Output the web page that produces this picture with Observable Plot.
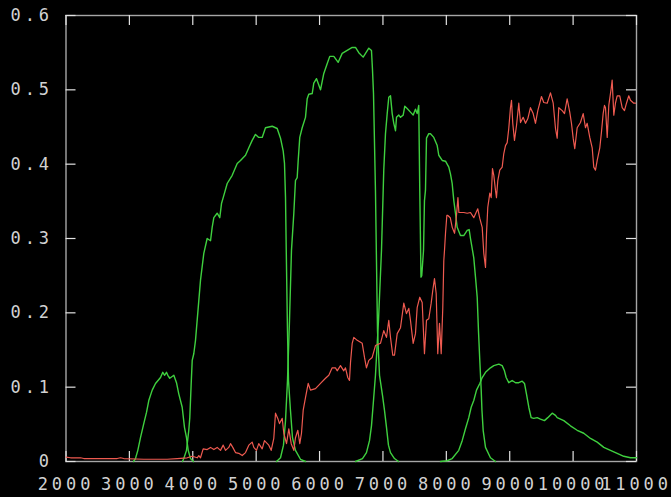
<!DOCTYPE html>
<html>
<head>
<meta charset="utf-8">
<script src="https://cdn.jsdelivr.net/npm/d3@7"></script>
<script src="https://cdn.jsdelivr.net/npm/@observablehq/plot@0.6"></script>
<style>
  html, body { margin: 0; padding: 0; background: #000; }
  #chart { width: 671px; height: 497px; overflow: hidden; }
</style>
</head>
<body>
<div id="chart"></div>
<script>
// Tick values
const xTicks = [2000, 3000, 4000, 5000, 6000, 7000, 8000, 9000, 10000, 11000];
const yTicks = [0, 0.1, 0.2, 0.3, 0.4, 0.5, 0.6];

// Filter 1 (green)
const f1Wave = [3065, 3096, 3133, 3175, 3227, 3270, 3306, 3360, 3412, 3491, 3527, 3554, 3585, 3606, 3637, 3701, 3743, 3779, 3833, 3869, 3901, 3928, 3964, 4011];
const f1Val  = [0, 0.004, 0.015, 0.032, 0.051, 0.066, 0.082, 0.096, 0.105, 0.113, 0.120, 0.116, 0.120, 0.116, 0.112, 0.116, 0.106, 0.091, 0.073, 0.046, 0.032, 0.015, 0.004, 0];

// Filter 2 (green)
const f2Wave = [3838, 3858, 3901, 3937, 3953, 3975, 3991, 4016, 4043, 4122, 4174, 4227, 4280, 4306, 4332, 4385, 4426, 4453, 4480, 4543, 4622, 4701, 4753, 4832, 4884, 4937, 4989, 5041, 5095, 5147, 5253, 5332, 5384, 5426, 5447, 5463, 5474, 5494, 5510, 5541, 5573, 5620, 5699, 5778];
const f2Val  = [0, 0.004, 0.015, 0.042, 0.059, 0.105, 0.136, 0.145, 0.163, 0.244, 0.280, 0.300, 0.297, 0.315, 0.328, 0.334, 0.328, 0.347, 0.355, 0.374, 0.385, 0.401, 0.405, 0.412, 0.422, 0.432, 0.440, 0.436, 0.436, 0.449, 0.451, 0.448, 0.435, 0.418, 0.401, 0.355, 0.288, 0.176, 0.109, 0.069, 0.032, 0.015, 0.003, 0];

// Filter 3 (green)
const f3Wave = [5321, 5384, 5431, 5463, 5494, 5526, 5557, 5594, 5620, 5647, 5663, 5688, 5726, 5778, 5805, 5830, 5884, 5909, 5952, 6015, 6067, 6120, 6161, 6225, 6294, 6357, 6436, 6515, 6567, 6619, 6688, 6777, 6819, 6835, 6851, 6882, 6898, 6914, 6946, 6993, 7024, 7056, 7087, 7119, 7182, 7245];
const f3Val  = [0, 0.005, 0.022, 0.055, 0.109, 0.190, 0.284, 0.334, 0.378, 0.382, 0.405, 0.436, 0.449, 0.463, 0.488, 0.494, 0.495, 0.509, 0.515, 0.500, 0.522, 0.535, 0.545, 0.545, 0.537, 0.549, 0.553, 0.557, 0.557, 0.550, 0.544, 0.556, 0.553, 0.527, 0.495, 0.365, 0.270, 0.176, 0.116, 0.089, 0.069, 0.046, 0.022, 0.012, 0.004, 0];

// Filter 4 (green, with absorption dip)
const f4Wave = [6567, 6677, 6740, 6788, 6819, 6851, 6882, 6930, 6977, 7013, 7040, 7067, 7092, 7119, 7146, 7171, 7198, 7214, 7250, 7277, 7319, 7345, 7382, 7434, 7477, 7513, 7540, 7565, 7581, 7600, 7612, 7640, 7655, 7671, 7687, 7723, 7750, 7802, 7856, 7881, 7935, 7987, 8039, 8065, 8092, 8118, 8144, 8171, 8223, 8275, 8329, 8360, 8381, 8433, 8460, 8487, 8507, 8528, 8550, 8562, 8581, 8618, 8696, 8775];
const f4Val  = [0, 0.004, 0.012, 0.028, 0.048, 0.082, 0.116, 0.190, 0.284, 0.392, 0.441, 0.468, 0.490, 0.492, 0.468, 0.455, 0.445, 0.463, 0.466, 0.463, 0.466, 0.478, 0.475, 0.470, 0.466, 0.474, 0.468, 0.479, 0.365, 0.248, 0.250, 0.284, 0.351, 0.365, 0.435, 0.441, 0.441, 0.436, 0.425, 0.412, 0.405, 0.404, 0.396, 0.387, 0.374, 0.351, 0.334, 0.315, 0.304, 0.304, 0.311, 0.312, 0.300, 0.274, 0.248, 0.221, 0.176, 0.136, 0.096, 0.069, 0.042, 0.019, 0.005, 0];

// Filter 5 (green, long red tail)
const f5Wave = [7908, 8013, 8092, 8196, 8250, 8302, 8354, 8392, 8433, 8476, 8528, 8566, 8618, 8696, 8749, 8828, 8881, 8917, 8944, 8985, 9039, 9091, 9143, 9197, 9233, 9264, 9301, 9338, 9379, 9433, 9485, 9548, 9600, 9670, 9722, 9749, 9853, 9958, 10064, 10168, 10274, 10380, 10484, 10589, 10695, 10799, 10905, 11000];
const f5Val  = [0, 0.001, 0.004, 0.015, 0.028, 0.044, 0.059, 0.073, 0.082, 0.096, 0.105, 0.113, 0.120, 0.126, 0.129, 0.131, 0.129, 0.122, 0.113, 0.106, 0.109, 0.106, 0.106, 0.108, 0.105, 0.091, 0.073, 0.059, 0.058, 0.059, 0.057, 0.055, 0.059, 0.065, 0.062, 0.059, 0.055, 0.048, 0.042, 0.038, 0.031, 0.026, 0.019, 0.015, 0.011, 0.007, 0.005, 0.005];

// Spectrum (red)
const specWave = [2000, 2071, 2229, 2281, 2439, 2808, 2860, 2912, 3227, 3596, 3754, 3912, 3991, 4070, 4095, 4122, 4164, 4227, 4280, 4332, 4385, 4437, 4480, 4516, 4568, 4595, 4631, 4674, 4726, 4780, 4832, 4884, 4937, 4963, 5005, 5041, 5095, 5131, 5199, 5237, 5278, 5305, 5341, 5368, 5411, 5436, 5479, 5515, 5553, 5594, 5620, 5657, 5688, 5715, 5742, 5778, 5821, 5857, 5936, 6015, 6094, 6146, 6199, 6251, 6278, 6330, 6382, 6409, 6445, 6472, 6488, 6515, 6540, 6594, 6673, 6709, 6740, 6777, 6830, 6882, 6961, 7013, 7056, 7092, 7119, 7155, 7182, 7225, 7277, 7329, 7371, 7408, 7434, 7477, 7513, 7540, 7581, 7619, 7655, 7687, 7723, 7761, 7786, 7813, 7840, 7865, 7892, 7919, 7944, 7960, 7971, 7987, 8008, 8024, 8062, 8093, 8130, 8157, 8183, 8198, 8275, 8329, 8381, 8433, 8496, 8528, 8566, 8591, 8618, 8634, 8654, 8686, 8708, 8728, 8749, 8775, 8791, 8812, 8843, 8881, 8906, 8933, 8960, 8985, 9012, 9028, 9048, 9075, 9107, 9143, 9170, 9212, 9249, 9285, 9327, 9370, 9406, 9443, 9474, 9501, 9537, 9591, 9643, 9686, 9722, 9749, 9774, 9828, 9864, 9906, 9947, 9974, 10001, 10026, 10064, 10116, 10159, 10195, 10222, 10263, 10301, 10326, 10353, 10380, 10421, 10447, 10474, 10495, 10511, 10538, 10563, 10601, 10616, 10642, 10668, 10695, 10736, 10774, 10810, 10842, 10878, 10905, 10957, 10984];
const specVal  = [0.006, 0.005, 0.005, 0.004, 0.004, 0.004, 0.005, 0.004, 0.003, 0.003, 0.004, 0.005, 0.007, 0.005, 0.008, 0.005, 0.017, 0.016, 0.019, 0.016, 0.019, 0.015, 0.022, 0.015, 0.019, 0.024, 0.019, 0.012, 0.011, 0.008, 0.012, 0.022, 0.026, 0.019, 0.015, 0.024, 0.017, 0.028, 0.022, 0.015, 0.031, 0.065, 0.058, 0.051, 0.058, 0.038, 0.024, 0.044, 0.024, 0.015, 0.032, 0.042, 0.024, 0.038, 0.069, 0.086, 0.105, 0.096, 0.098, 0.105, 0.112, 0.116, 0.126, 0.126, 0.122, 0.129, 0.122, 0.126, 0.113, 0.109, 0.133, 0.159, 0.167, 0.163, 0.159, 0.140, 0.126, 0.136, 0.140, 0.156, 0.159, 0.176, 0.167, 0.190, 0.167, 0.143, 0.143, 0.172, 0.180, 0.213, 0.199, 0.206, 0.190, 0.159, 0.172, 0.207, 0.221, 0.214, 0.145, 0.190, 0.192, 0.213, 0.230, 0.246, 0.226, 0.145, 0.186, 0.145, 0.207, 0.270, 0.284, 0.307, 0.331, 0.331, 0.328, 0.315, 0.307, 0.328, 0.355, 0.335, 0.335, 0.334, 0.335, 0.328, 0.340, 0.327, 0.315, 0.280, 0.261, 0.307, 0.342, 0.361, 0.355, 0.394, 0.385, 0.365, 0.355, 0.378, 0.392, 0.396, 0.414, 0.425, 0.429, 0.448, 0.476, 0.486, 0.455, 0.432, 0.452, 0.482, 0.456, 0.463, 0.455, 0.461, 0.476, 0.468, 0.455, 0.472, 0.482, 0.491, 0.483, 0.482, 0.496, 0.482, 0.448, 0.435, 0.476, 0.472, 0.468, 0.488, 0.470, 0.455, 0.435, 0.421, 0.449, 0.456, 0.468, 0.449, 0.455, 0.436, 0.422, 0.396, 0.392, 0.405, 0.422, 0.443, 0.468, 0.479, 0.476, 0.436, 0.479, 0.502, 0.513, 0.466, 0.482, 0.492, 0.492, 0.476, 0.472, 0.482, 0.492, 0.486, 0.482, 0.482];

const toRows = (w, v) => w.map((x, i) => ({ x, y: v[i] }));
const filters = [[f1Wave, f1Val], [f2Wave, f2Val], [f3Wave, f3Val], [f4Wave, f4Val], [f5Wave, f5Val]].map(([w, v]) => toRows(w, v));
const spectrum = toRows(specWave, specVal);

const green = "#3fd03f";
const red = "#ee5a50";
const frameColor = "#a6a6a6";
const tickColor = "#e2e2e2";
const textColor = "#d2d2d2";
const font = "'DejaVu Sans Mono', 'Liberation Mono', monospace";

const plot = Plot.plot({
  width: 671,
  height: 497,
  marginLeft: 65.5,
  marginRight: 35,
  marginTop: 15,
  marginBottom: 36,
  x: { domain: [2000, 11000] },
  y: { domain: [0, 0.6] },
  style: { background: "#000", color: textColor, fontFamily: font, letterSpacing: "3.9px", overflow: "visible" },
  marks: [
    Plot.frame({ stroke: frameColor, strokeWidth: 1.4 }),
    Plot.ruleX(xTicks, { x: d => d, insetTop: 436, stroke: tickColor, strokeWidth: 1.2 }),
    Plot.ruleX(xTicks, { x: d => d, insetBottom: 436, stroke: tickColor, strokeWidth: 1.2 }),
    Plot.ruleY(yTicks, { y: d => d, insetRight: 560.5, stroke: tickColor, strokeWidth: 1.2 }),
    Plot.ruleY(yTicks, { y: d => d, insetLeft: 560.5, stroke: tickColor, strokeWidth: 1.2 }),
    Plot.axisX(xTicks, { anchor: "bottom", tickSize: 0, tickPadding: 16, fontSize: 17, fill: textColor, label: null, tickFormat: d => String(d) }),
    Plot.axisY(yTicks, { anchor: "left", tickSize: 0, tickPadding: 13, fontSize: 17, fill: textColor, label: null, tickFormat: d => (d === 0 ? "0" : d.toFixed(1)) }),
    ...filters.map(rows => Plot.line(rows, { x: "x", y: "y", stroke: green, strokeWidth: 1.4 })),
    Plot.line(spectrum, { x: "x", y: "y", stroke: red, strokeWidth: 1.2 })
  ]
});

document.getElementById("chart").appendChild(plot);
</script>
</body>
</html>
